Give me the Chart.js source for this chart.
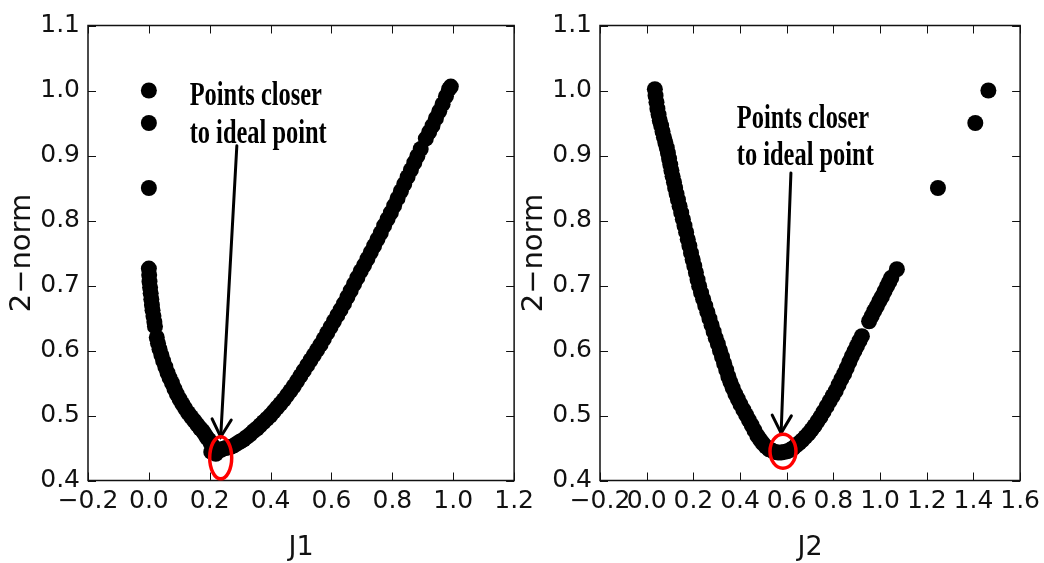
<!DOCTYPE html>
<html><head><meta charset="utf-8">
<script src="https://cdn.jsdelivr.net/npm/chart.js@4.4.0/dist/chart.umd.min.js"></script>
<style>
html,body{margin:0;padding:0;background:#fff;overflow:hidden;width:1044px;height:563px}
#wrap{position:relative;width:1044px;height:563px;overflow:hidden}
canvas{position:absolute;top:0}
#c1{left:0}
#c2{left:520px}
</style></head><body>
<div id="wrap">
<canvas id="c1" width="540" height="563"></canvas>
<canvas id="c2" width="526" height="563"></canvas>
</div>
<script>
// ---- data ----
const leftJ1 = [0.000,0.000,0.000,
 0.000,0.001,0.002,0.004,0.006,0.008,0.010,0.012,0.015,0.018,0.020,
 0.026,0.030,0.035,0.041,0.047,0.054,0.061,0.068,0.076,0.084,0.092,0.101,0.110,0.119,0.129,0.139,0.149,0.159,0.169,
 0.177,0.184,0.191,0.198,0.204,0.210,0.216,0.223,0.230,0.237,0.245,0.253,0.262,0.271,0.280,0.290,0.300,0.311,0.322,
 0.333,0.344,0.355,0.366,0.377,0.388,0.399,0.410,0.421,0.432,0.443,0.454,0.465,0.476,0.487,0.498,0.509,0.520,0.531,
 0.542,0.553,0.564,0.575,0.586,0.597,0.608,0.619,0.630,0.641,0.652,0.663,0.674,0.685,0.696,0.707,0.718,0.729,0.740,
 0.751,0.762,0.773,0.784,0.795,0.806,0.817,0.828,0.839,0.850,0.861,0.872,0.882,0.893,
 0.910,0.921,0.932,0.943,0.954,0.965,0.976,0.986,0.992,
 0.205,0.220];
const leftNorm = [1.000,0.950,0.850,
 0.726,0.716,0.706,0.697,0.688,0.679,0.670,0.662,0.653,0.644,0.637,
 0.620,0.611,0.602,0.593,0.584,0.575,0.566,0.558,0.550,0.541,0.533,0.525,0.518,0.511,0.504,0.498,0.492,0.486,0.480,
 0.476,0.471,0.466,0.462,0.457,0.453,0.450,0.448,0.447,0.447,0.449,0.450,0.451,0.452,0.454,0.457,0.460,0.463,0.467,
 0.471,0.476,0.480,0.485,0.490,0.495,0.500,0.506,0.512,0.518,0.524,0.531,0.538,0.545,0.553,0.561,0.569,0.577,0.585,
 0.593,0.601,0.609,0.618,0.627,0.636,0.645,0.654,0.663,0.672,0.682,0.692,0.702,0.712,0.722,0.731,0.741,0.751,0.761,
 0.771,0.781,0.792,0.802,0.812,0.823,0.834,0.845,0.856,0.867,0.878,0.889,0.899,0.910,
 0.926,0.936,0.946,0.957,0.968,0.979,0.991,1.002,1.006,
 0.444,0.441];

const rightJ2 = [0.035,0.038,0.042,0.046,0.051,0.056,0.062,0.068,0.074,0.080,0.086,0.091,0.096,0.101,0.106,0.111,
 0.117,0.122,0.128,0.134,0.141,0.148,0.155,0.162,0.169,0.176,0.183,0.190,0.197,0.204,0.211,0.218,0.225,0.233,0.242,
 0.251,0.260,0.269,0.278,0.287,0.296,0.305,0.314,0.323,0.332,0.341,0.350,0.359,0.369,0.380,0.391,0.402,0.414,0.426,
 0.438,0.450,0.462,0.474,0.486,0.498,0.511,0.524,0.537,0.550,0.563,0.576,0.589,0.602,0.615,0.628,0.641,0.654,0.667,
 0.680,0.693,0.706,0.719,0.732,0.745,0.758,0.771,0.784,0.797,0.810,0.822,0.834,0.846,0.857,0.868,0.879,0.890,0.901,
 0.912,0.922,0.953,0.964,0.975,0.986,0.997,1.008,1.019,1.030,1.040,1.048,1.072,
 1.248,1.408,1.464];
const rightNorm = [1.002,0.992,0.982,0.972,0.963,0.954,0.946,0.937,0.928,0.920,0.912,0.904,0.895,0.886,0.877,0.868,
 0.859,0.850,0.841,0.832,0.822,0.812,0.802,0.792,0.782,0.771,0.761,0.750,0.740,0.730,0.720,0.709,0.699,0.689,0.679,
 0.669,0.659,0.649,0.639,0.629,0.619,0.610,0.600,0.590,0.580,0.570,0.560,0.551,0.542,0.533,0.525,0.517,0.509,0.501,
 0.493,0.485,0.477,0.469,0.463,0.457,0.452,0.448,0.446,0.444,0.443,0.443,0.444,0.445,0.447,0.450,0.454,0.458,0.462,
 0.467,0.472,0.478,0.484,0.491,0.498,0.506,0.514,0.522,0.530,0.538,0.547,0.556,0.564,0.573,0.582,0.591,0.599,0.607,
 0.615,0.622,0.645,0.653,0.661,0.668,0.676,0.683,0.691,0.699,0.706,0.712,0.725,
 0.850,0.950,1.000];

const leftXTicks = [-0.2,0.0,0.2,0.4,0.6,0.8,1.0,1.2];
const rightXTicks = [-0.2,0.0,0.2,0.4,0.6,0.8,1.0,1.2,1.4,1.6];
const yTicks = [0.4,0.5,0.6,0.7,0.8,0.9,1.0,1.1];
const noteLines = ['Points closer','to ideal point'];

// ---- drawing ----
const TICK_LEN = 8;
const fmt = v => (Math.round(v*10)/10).toFixed(1).replace('-', '\u2212');

const framePlugin = {
  id: 'frame',
  afterDatasetsDraw(chart, args, o) {
    const {ctx, chartArea: a} = chart;
    const x = chart.scales.x, y = chart.scales.y;
    ctx.save();
    ctx.strokeStyle = '#111';
    ctx.lineWidth = 1.5;
    ctx.strokeRect(a.left, a.top, a.right - a.left, a.bottom - a.top);
    ctx.lineWidth = 1;
    ctx.beginPath();
    x.ticks.forEach(t => {
      const p = Math.round(x.getPixelForValue(t.value)) + 0.5;
      ctx.moveTo(p, a.bottom); ctx.lineTo(p, a.bottom - TICK_LEN);
      ctx.moveTo(p, a.top); ctx.lineTo(p, a.top + TICK_LEN);
    });
    y.ticks.forEach(t => {
      const p = Math.round(y.getPixelForValue(t.value)) + 0.5;
      ctx.moveTo(a.left, p); ctx.lineTo(a.left + TICK_LEN, p);
      ctx.moveTo(a.right, p); ctx.lineTo(a.right - TICK_LEN, p);
    });
    ctx.stroke();

    const n = o.note;
    ctx.fillStyle = '#000';
    ctx.font = 'bold 33px "Liberation Serif"';
    ctx.textAlign = 'left';
    ctx.textBaseline = 'alphabetic';
    const tx = x.getPixelForValue(n.textAt[0]);
    const ty = y.getPixelForValue(n.textAt[1]);
    noteLines.forEach((line, i) => {
      ctx.save();
      ctx.translate(tx, ty + i * n.lineGap);
      ctx.scale(0.74, 1);
      ctx.fillText(line, 0, 0);
      ctx.restore();
    });
    const ax0 = x.getPixelForValue(n.from[0]), ay0 = y.getPixelForValue(n.from[1]);
    const ax1 = x.getPixelForValue(n.to[0]), ay1 = y.getPixelForValue(n.to[1]);
    ctx.strokeStyle = '#000';
    ctx.lineWidth = 3;
    ctx.lineCap = 'round';
    ctx.beginPath(); ctx.moveTo(ax0, ay0); ctx.lineTo(ax1, ay1); ctx.stroke();
    const ang = Math.atan2(ay1 - ay0, ax1 - ax0), L = 20, sp = 0.5;
    ctx.beginPath();
    ctx.moveTo(ax1 - L*Math.cos(ang - sp), ay1 - L*Math.sin(ang - sp));
    ctx.lineTo(ax1, ay1);
    ctx.lineTo(ax1 - L*Math.cos(ang + sp), ay1 - L*Math.sin(ang + sp));
    ctx.stroke();
    ctx.strokeStyle = '#ff0000';
    ctx.lineWidth = 3.5;
    ctx.beginPath();
    ctx.ellipse(x.getPixelForValue(n.ring[0]), y.getPixelForValue(n.ring[1]), n.rx, n.ry, 0, 0, 2*Math.PI);
    ctx.stroke();
    ctx.restore();
  }
};

function makeChart(id, xs, ys, xTicks, xTitle, cfg) {
  const pts = xs.map((v, i) => ({x: v, y: ys[i]}));
  return new Chart(document.getElementById(id), {
    type: 'scatter',
    data: {datasets: [{data: pts, backgroundColor: '#000', borderColor: '#000', borderWidth: 0, pointRadius: 8, pointHoverRadius: 8}]},
    options: {
      responsive: false, animation: false, events: [],
      layout: {padding: {top: 25.5, right: cfg.padRight, left: 0, bottom: 0}},
      plugins: {legend: {display: false}, tooltip: {enabled: false}, frame: {note: cfg.note}},
      scales: {
        x: {
          type: 'linear', min: xTicks[0], max: xTicks[xTicks.length-1],
          afterBuildTicks: s => { s.ticks = xTicks.map(v => ({value: v})); },
          afterFit: s => { s.height = 82.5; },
          grid: {display: false, drawTicks: false}, border: {display: false},
          ticks: {callback: v => fmt(v), color: '#111', font: {size: 25, family: 'DejaVu Sans'}, padding: 6, maxRotation: 0, autoSkip: false},
          title: {display: true, text: xTitle, color: '#111', font: {size: 27, family: 'DejaVu Sans', lineHeight: 1}, padding: {top: 0, bottom: 2}}
        },
        y: {
          type: 'linear', min: 0.4, max: 1.1,
          afterBuildTicks: s => { s.ticks = yTicks.map(v => ({value: v})); },
          afterFit: s => { s.width = cfg.yWidth; },
          grid: {display: false, drawTicks: false}, border: {display: false},
          ticks: {callback: v => fmt(v), color: '#111', font: {size: 25, family: 'DejaVu Sans'}, padding: 8, autoSkip: false},
          title: {display: true, text: '2\u2212norm', color: '#111', font: {size: 29, family: 'DejaVu Sans', lineHeight: 1}, padding: {top: cfg.yTitlePad, bottom: 0}}
        }
      }
    },
    plugins: [framePlugin]
  });
}

makeChart('c1', leftJ1, leftNorm, leftXTicks, 'J1', {
  padRight: 25, yWidth: 88, yTitlePad: 8,
  note: {textAt: [0.134, 0.978], lineGap: 38, from: [0.289, 0.915], to: [0.236, 0.467], ring: [0.236, 0.435], rx: 11, ry: 21}
});
makeChart('c2', rightJ2, rightNorm, rightXTicks, 'J2', {
  padRight: 20.6, yWidth: 80, yTitlePad: 0,
  note: {textAt: [0.386, 0.942], lineGap: 37, from: [0.618, 0.873], to: [0.576, 0.473], ring: [0.584, 0.445], rx: 13, ry: 17}
});
</script>
</body></html>
